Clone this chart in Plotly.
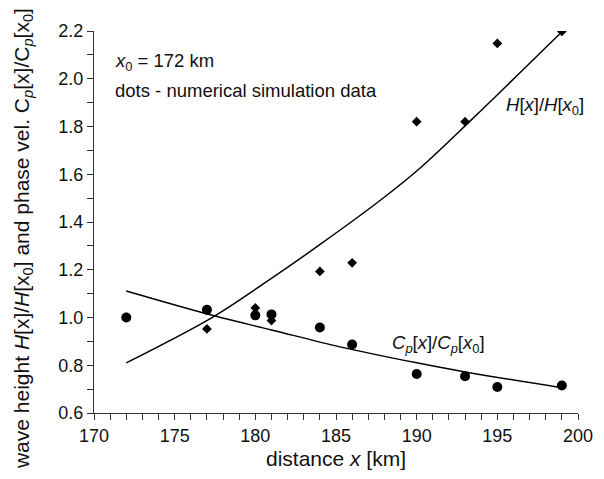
import plotly.graph_objects as go

# simulation data (dots)
dist_km = [172, 177, 180, 181, 184, 186, 190, 193, 195, 199]
height_ratio = [1.0, 0.952, 1.04, 0.987, 1.193, 1.229, 1.82, 1.82, 2.148, 2.198]
phase_ratio = [1.0, 1.032, 1.009, 1.013, 0.958, 0.887, 0.763, 0.754, 0.709, 0.715]

# analytical curves
curve_x_height = [172, 177.45, 180.7, 183.95, 187.73, 190.2, 193.5, 199]
curve_height = [0.81, 1.005, 1.150, 1.303, 1.49, 1.625, 1.835, 2.197]
curve_x_phase = [172, 177.45, 181, 185.25, 190, 193, 199]
curve_phase = [1.111, 1.007, 0.948, 0.877, 0.81, 0.772, 0.706]

x_ticks = [170, 175, 180, 185, 190, 195, 200]
y_ticks = [0.6, 0.8, 1.0, 1.2, 1.4, 1.6, 1.8, 2.0, 2.2]

FONT = "Liberation Sans, Arial, sans-serif"
TXT = "#111"

fig = go.Figure()
fig.add_trace(go.Scatter(x=curve_x_height, y=curve_height, mode="lines",
                         line=dict(color="black", width=1.5, shape="spline", smoothing=1.0),
                         showlegend=False, hoverinfo="skip"))
fig.add_trace(go.Scatter(x=curve_x_phase, y=curve_phase, mode="lines",
                         line=dict(color="black", width=1.5, shape="spline", smoothing=1.0),
                         showlegend=False, hoverinfo="skip"))
fig.add_trace(go.Scatter(x=dist_km, y=height_ratio, mode="markers",
                         marker=dict(symbol="diamond", size=7.5, color="black"),
                         showlegend=False))
fig.add_trace(go.Scatter(x=dist_km, y=phase_ratio, mode="markers",
                         marker=dict(symbol="circle", size=10, color="black"),
                         showlegend=False))

fig.add_annotation(x=171.2, y=2.07, xref="x", yref="y", xanchor="left", yanchor="middle",
                   text="<i>x</i><sub>0</sub> = 172 km", showarrow=False,
                   font=dict(size=18.5, color=TXT, family=FONT))
fig.add_annotation(x=171.2, y=1.95, xref="x", yref="y", xanchor="left", yanchor="middle",
                   text="dots - numerical simulation data", showarrow=False,
                   font=dict(size=18.5, color=TXT, family=FONT))
fig.add_annotation(x=195.4, y=1.885, xref="x", yref="y", xanchor="left", yanchor="middle",
                   text="<i>H</i>[<i>x</i>]/<i>H</i>[<i>x</i><sub>0</sub>]", showarrow=False,
                   font=dict(size=18.5, color=TXT, family=FONT))
fig.add_annotation(x=188.35, y=0.89, xref="x", yref="y", xanchor="left", yanchor="middle",
                   text="<i>C</i><sub><i>p</i></sub>[<i>x</i>]/<i>C</i><sub><i>p</i></sub>[<i>x</i><sub>0</sub>]",
                   showarrow=False, font=dict(size=18.5, color=TXT, family=FONT))
# y-axis title (placed as rotated text for exact position)
fig.add_annotation(x=-0.1467, y=0.458, xref="paper", yref="paper", xanchor="center", yanchor="middle",
                   textangle=-90, showarrow=False,
                   text="wave height <i>H</i>[x]/<i>H</i>[x<sub>0</sub>] and phase vel. C<sub><i>p</i></sub>[x]/C<sub><i>p</i></sub>[x<sub>0</sub>]",
                   font=dict(size=21, family=FONT, color=TXT))

# the page body has an 8 px margin, so the figure is made 8 px smaller
fig.update_layout(
    width=596, height=471,
    margin=dict(l=86, r=26, t=23, b=66),
    paper_bgcolor="white", plot_bgcolor="white",
    font=dict(family=FONT, size=18, color=TXT),
    showlegend=False,
)
fig.update_xaxes(
    range=[170, 200], tickvals=x_ticks, ticktext=[str(v) for v in x_ticks],
    showline=True, linecolor="#333", linewidth=1.2, showgrid=False, zeroline=False,
    ticks="outside", ticklen=6, tickwidth=1, tickcolor="#333",
    minor=dict(dtick=1, ticks="outside", ticklen=6, tickwidth=1, tickcolor="#333", showgrid=False),
    tickfont=dict(size=18, family=FONT, color=TXT),
    title=dict(text="distance <i>x</i> [km]", font=dict(size=21, family=FONT, color=TXT), standoff=6),
)
fig.update_yaxes(
    range=[0.6, 2.2], tickvals=y_ticks, ticktext=[f"{v:.1f}" for v in y_ticks],
    showline=True, linecolor="#333", linewidth=1.2, showgrid=False, zeroline=False,
    ticks="outside", ticklen=6, tickwidth=1, tickcolor="#333",
    minor=dict(dtick=0.1, ticks="outside", ticklen=6, tickwidth=1, tickcolor="#333", showgrid=False),
    tickfont=dict(size=18, family=FONT, color=TXT),
)

fig.write_html("out.html")
